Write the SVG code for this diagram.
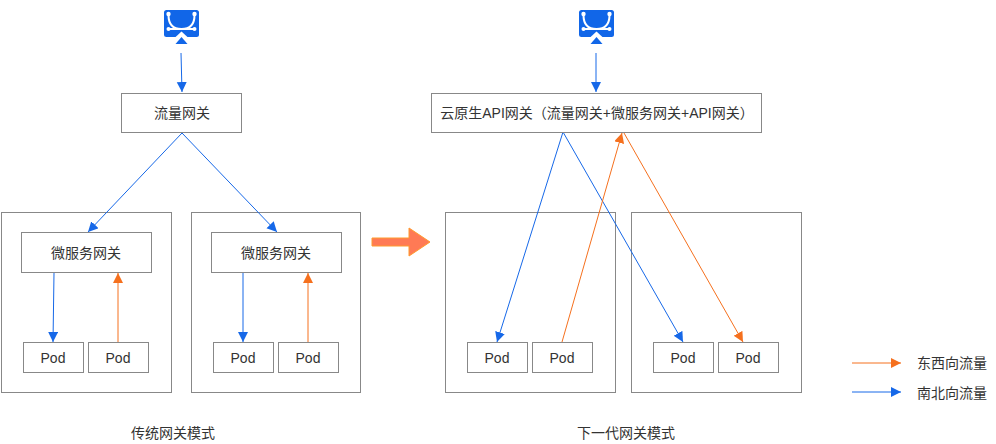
<svg xmlns="http://www.w3.org/2000/svg" width="996" height="444" viewBox="0 0 996 444">
<defs>
<style>
text{font-family:"Liberation Sans","Noto Sans CJK SC",sans-serif;font-size:14px;fill:#333;text-anchor:middle}
.box{fill:#fff;stroke:#888;stroke-width:1}
.c{fill:none;stroke-width:1}
.b{stroke:#1668e8;marker-end:url(#mb)}
.o{stroke:#f5701e;marker-end:url(#mo)}
.ic{fill:#1166e8}
.il{fill:none;stroke:#fff;stroke-width:2}
</style>
<marker id="mb" markerUnits="userSpaceOnUse" markerWidth="12" markerHeight="12" refX="10" refY="5" orient="auto"><path d="M0 0L10 5L0 10Z" fill="#1668e8"/></marker>
<marker id="mo" markerUnits="userSpaceOnUse" markerWidth="12" markerHeight="12" refX="10" refY="5" orient="auto"><path d="M0 0L10 5L0 10Z" fill="#f5701e"/></marker>
<g id="icon"><rect x="-17.500" y="-15" width="35" height="27" rx="2.500" class="ic"/><path class="il" d="M-13-10C-13 2-6 4 0 4S13 2 13-10M-13 4H13"/><circle cx="-13" cy="-11" r="2.200" fill="#fff"/><circle cx="13" cy="-11" r="2.200" fill="#fff"/><circle cx="-13" cy="4" r="2" fill="#fff"/><circle cx="13" cy="4" r="2" fill="#fff"/><path d="M0 6.500L-7 13H7Z" fill="#fff"/><path d="M0 12L-6 19H6Z" class="ic"/></g>
</defs>
<rect width="996" height="444" fill="#fff"/>
<g id="frames">
<rect id="frame-a" class="box" x="1.500" y="212.500" width="170" height="180"/>
<rect id="frame-b" class="box" x="191.500" y="212.500" width="169" height="180"/>
<rect id="frame-c" class="box" x="445.500" y="212.500" width="170" height="180"/>
<rect id="frame-d" class="box" x="631.500" y="212.500" width="170" height="180"/>
</g>
<g id="connectors">
<path class="c b" d="M181 53L182 92"/>
<path class="c b" d="M182 133L88 232"/>
<path class="c b" d="M182 133L277 232"/>
<path class="c b" d="M54 273L53 342"/>
<path class="c o" d="M118 342L118 273"/>
<path class="c b" d="M243 273L243 342"/>
<path class="c o" d="M308 342L308 273"/>
<path class="c b" d="M596 53L596 92"/>
<path class="c b" d="M563 132L497 342"/>
<path class="c b" d="M563 132L683 342"/>
<path class="c o" d="M562 342L622 133"/>
<path class="c o" d="M624 133L743 342"/>
<path class="c o" d="M852 363L901 363"/>
<path class="c b" d="M852 392L901 392"/>
</g>
<g id="icon-left"><use href="#icon" x="181.500" y="25"/></g>
<g id="icon-right"><use href="#icon" x="596.500" y="25"/></g>
<g id="gw1"><rect class="box" x="121.500" y="93.500" width="120" height="39"/><text x="182" y="118">流量网关</text></g>
<g id="gw2"><rect class="box" x="431.500" y="93.500" width="330" height="39"/><text x="597" y="118">云原生API网关（流量网关+微服务网关+API网关）</text></g>
<g id="ms1"><rect class="box" x="21.500" y="232.500" width="130" height="40"/><text x="86" y="258">微服务网关</text></g>
<g id="ms2"><rect class="box" x="211.500" y="232.500" width="130" height="40"/><text x="276" y="258">微服务网关</text></g>
<g id="p1"><rect class="box" x="23.500" y="342.500" width="60" height="30"/><text x="53" y="363">Pod</text></g>
<g id="p2"><rect class="box" x="88.500" y="342.500" width="60" height="30"/><text x="118" y="363">Pod</text></g>
<g id="p3"><rect class="box" x="213.500" y="342.500" width="60" height="30"/><text x="243" y="363">Pod</text></g>
<g id="p4"><rect class="box" x="278.500" y="342.500" width="60" height="30"/><text x="308" y="363">Pod</text></g>
<g id="p5"><rect class="box" x="467.500" y="342.500" width="60" height="30"/><text x="497" y="363">Pod</text></g>
<g id="p6"><rect class="box" x="532.500" y="342.500" width="60" height="30"/><text x="562" y="363">Pod</text></g>
<g id="p7"><rect class="box" x="653.500" y="342.500" width="60" height="30"/><text x="683" y="363">Pod</text></g>
<g id="p8"><rect class="box" x="718.500" y="342.500" width="60" height="30"/><text x="748" y="363">Pod</text></g>
<g id="big-arrow"><path d="M372 238H409V228L430 242L409 256V246H372Z" fill="#ff7a55" stroke="#ff9a2e" stroke-width="1"/></g>
<g id="labels">
<text x="173" y="438">传统网关模式</text>
<text x="626" y="438">下一代网关模式</text>
<text x="952" y="368">东西向流量</text>
<text x="952" y="398">南北向流量</text>
</g>
</svg>
